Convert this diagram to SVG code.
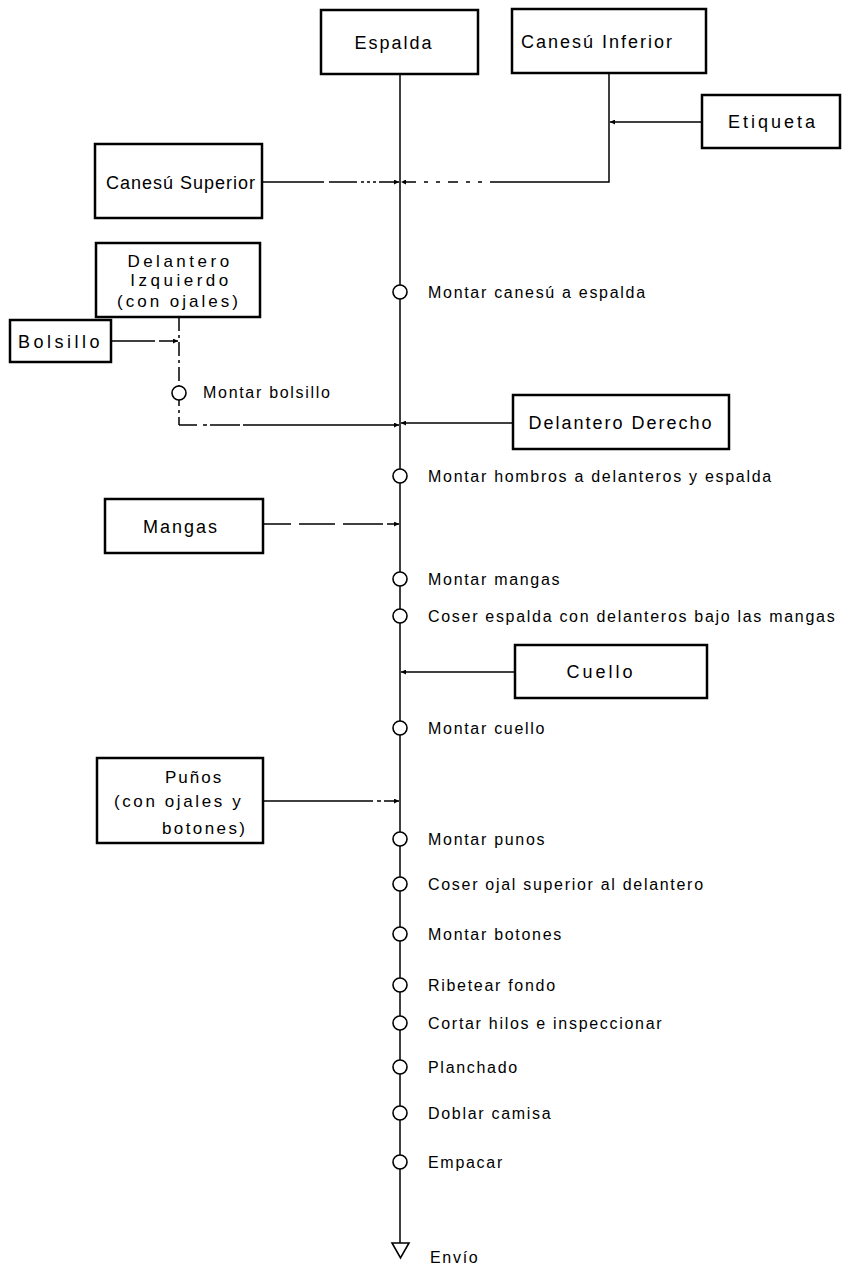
<svg xmlns="http://www.w3.org/2000/svg" width="842" height="1267" viewBox="0 0 842 1267">
<style>
.box{fill:#fff;stroke:#000;stroke-width:2.5}
.bt{font-family:"Liberation Sans",Arial,sans-serif;font-size:18px;fill:#000;letter-spacing:2px}
.lt{font-family:"Liberation Sans",Arial,sans-serif;font-size:16px;fill:#000;letter-spacing:1.7px}
.op{fill:#fff;stroke:#000;stroke-width:1.6}
.ln{fill:none;stroke:#000;stroke-width:1.5}
.in{fill:none;stroke:#000;stroke-width:1.4;marker-end:url(#ah)}
</style>
<defs>
<marker id="ah" viewBox="0 0 10 10" refX="10" refY="5" markerWidth="7" markerHeight="5" orient="auto" markerUnits="userSpaceOnUse">
<path d="M0,0 L10,5 L0,10 z" fill="#000"/>
</marker>
</defs>
<rect width="842" height="1267" fill="#fff"/>
<g id="connectors">
<line class="ln" x1="400" y1="74" x2="400" y2="1243"/>
<line class="in" x1="262" y1="182" x2="399" y2="182" stroke-dasharray="62 5 28 4 3 3 3 3 3 3 40"/>
<polyline class="ln" points="609,73 609,182 500,182"/>
<line class="in" x1="500" y1="182" x2="401" y2="182" stroke-dasharray="10 8 4 8 4 8"/>
<line class="in" x1="702" y1="122" x2="610" y2="122"/>
<line class="ln" x1="179" y1="317" x2="179" y2="425" stroke-dasharray="14 4 3 4"/>
<line class="in" x1="111" y1="341" x2="178" y2="341" stroke-dasharray="44 4 20"/>
<line class="in" x1="179" y1="425" x2="399" y2="425" stroke-dasharray="18 6 4 3 30 3 300"/>
<line class="in" x1="513" y1="423" x2="401" y2="423"/>
<line class="in" x1="263" y1="524" x2="399" y2="524" stroke-dasharray="28 8 36 8 40 4 12"/>
<line class="in" x1="515" y1="672" x2="401" y2="672"/>
<line class="in" x1="263" y1="801" x2="399" y2="801" stroke-dasharray="110 4 4 3 20"/>
</g>
<g id="n-espalda"><rect class="box" x="321" y="10" width="157" height="64"/><text class="bt" x="394" y="49" text-anchor="middle">Espalda</text></g>
<g id="n-canesu-inferior"><rect class="box" x="512" y="9" width="194" height="64"/><text class="bt" x="521" y="48">Canesú  Inferior</text></g>
<g id="n-etiqueta"><rect class="box" x="702" y="95" width="138" height="53"/><text class="bt" x="728" y="128" style="letter-spacing:3px">Etiqueta</text></g>
<g id="n-canesu-superior"><rect class="box" x="95" y="144" width="167" height="74"/><text class="bt" x="106" y="189" style="letter-spacing:1px">Canesú Superior</text></g>
<g id="n-delantero-izq"><rect class="box" x="96" y="243" width="164" height="74"/>
<text class="bt" x="180" y="267" text-anchor="middle" style="font-size:17px;letter-spacing:3.5px">Delantero</text>
<text class="bt" x="181" y="286" text-anchor="middle" style="font-size:17px;letter-spacing:3.5px">Izquierdo</text>
<text class="bt" x="179" y="307" text-anchor="middle" style="font-size:17px;letter-spacing:3px">(con  ojales)</text></g>
<g id="n-bolsillo"><rect class="box" x="10" y="320" width="101" height="42"/><text class="bt" x="18" y="348" style="letter-spacing:3.5px">Bolsillo</text></g>
<g id="n-delantero-der"><rect class="box" x="513" y="395" width="216" height="54"/><text class="bt" x="621" y="429" text-anchor="middle">Delantero Derecho</text></g>
<g id="n-mangas"><rect class="box" x="105" y="499" width="158" height="54"/><text class="bt" x="181" y="533" text-anchor="middle">Mangas</text></g>
<g id="n-cuello"><rect class="box" x="515" y="645" width="192" height="53"/><text class="bt" x="601" y="678" text-anchor="middle" style="letter-spacing:3px">Cuello</text></g>
<g id="n-punos"><rect class="box" x="97" y="758" width="166" height="85"/>
<text class="bt" x="165" y="783" style="font-size:17px">Puños</text>
<text class="bt" x="114" y="807" style="font-size:17px;letter-spacing:2.6px">(con ojales y</text>
<text class="bt" x="162" y="834" style="font-size:17px;letter-spacing:2.4px">botones)</text></g>
<g id="op-bolsillo"><circle class="op" cx="179" cy="393" r="7"/><text class="lt" x="203" y="398">Montar bolsillo</text></g>
<g id="op1"><circle class="op" cx="400" cy="292" r="7"/><text class="lt" x="428" y="298">Montar canesú a espalda</text></g>
<g id="op2"><circle class="op" cx="400" cy="476" r="7"/><text class="lt" x="428" y="482">Montar hombros a delanteros y espalda</text></g>
<g id="op3"><circle class="op" cx="400" cy="579" r="7"/><text class="lt" x="428" y="585">Montar mangas</text></g>
<g id="op4"><circle class="op" cx="400" cy="616" r="7"/><text class="lt" x="428" y="622">Coser espalda con delanteros bajo las mangas</text></g>
<g id="op5"><circle class="op" cx="400" cy="728" r="7"/><text class="lt" x="428" y="734">Montar cuello</text></g>
<g id="op6"><circle class="op" cx="400" cy="839" r="7"/><text class="lt" x="428" y="845">Montar punos</text></g>
<g id="op7"><circle class="op" cx="400" cy="884" r="7"/><text class="lt" x="428" y="890">Coser ojal superior al delantero</text></g>
<g id="op8"><circle class="op" cx="400" cy="934" r="7"/><text class="lt" x="428" y="940">Montar botones</text></g>
<g id="op9"><circle class="op" cx="400" cy="985" r="7"/><text class="lt" x="428" y="991">Ribetear fondo</text></g>
<g id="op10"><circle class="op" cx="400" cy="1023" r="7"/><text class="lt" x="428" y="1029">Cortar hilos e inspeccionar</text></g>
<g id="op11"><circle class="op" cx="400" cy="1067" r="7"/><text class="lt" x="428" y="1073">Planchado</text></g>
<g id="op12"><circle class="op" cx="400" cy="1113" r="7"/><text class="lt" x="428" y="1119">Doblar camisa</text></g>
<g id="op13"><circle class="op" cx="400" cy="1162" r="7"/><text class="lt" x="428" y="1168">Empacar</text></g>
<g id="envio"><polygon class="op" points="392,1243 409,1243 400.5,1258"/><text class="lt" x="430" y="1263">Envío</text></g>
</svg>
